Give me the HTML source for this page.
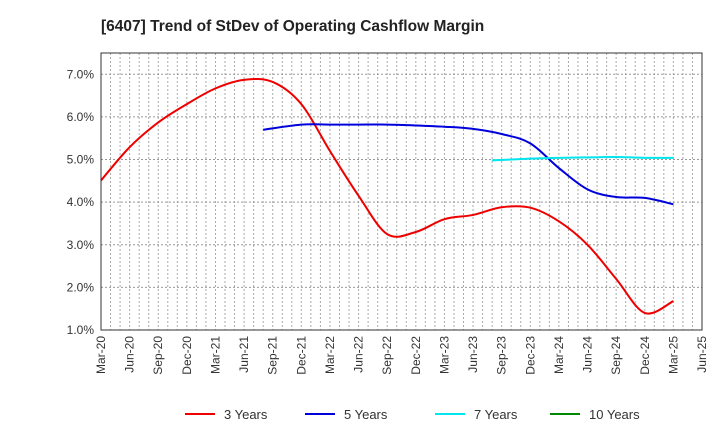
<!DOCTYPE html>
<html><head><meta charset="utf-8"><style>
body{margin:0;background:#fff;font-family:"Liberation Sans",Arial,sans-serif}
</style></head><body>
<svg width="720" height="440" id="c" xmlns="http://www.w3.org/2000/svg">
<text x="101" y="31" font-size="15.5" font-weight="bold" fill="#222">[6407]  Trend of StDev of Operating Cashflow Margin</text>
<g id="grid"></g><g id="series"></g><g id="axes"></g><g id="legend"></g>
</svg>
<script>
const xLabels=["Mar-20","Jun-20","Sep-20","Dec-20","Mar-21","Jun-21","Sep-21","Dec-21","Mar-22","Jun-22","Sep-22","Dec-22","Mar-23","Jun-23","Sep-23","Dec-23","Mar-24","Jun-24","Sep-24","Dec-24","Mar-25","Jun-25"];
const yTicks=[1,2,3,4,5,6,7];
// months since Mar-20
const m3=[0,3,6,9,12,15,18,21,24,27,30,33,36,39,42,45,48,51,54,57,60];
const v3=[4.51,5.29,5.87,6.3,6.67,6.87,6.82,6.3,5.2,4.15,3.25,3.3,3.6,3.7,3.88,3.87,3.55,3.0,2.2,1.4,1.68];
const m5=[17,21,24,27,30,33,36,39,42,45,48,51,54,57,60];
const v5=[5.7,5.82,5.82,5.82,5.82,5.8,5.77,5.72,5.6,5.38,4.8,4.3,4.12,4.1,3.95];
const m7=[41,45,48,51,54,57,60];
const v7=[4.98,5.02,5.04,5.05,5.06,5.04,5.04];
const L=101,R=702,T=53,B=330,ymin=1,ymax=7.5;
const X=m=>L+(R-L)*m/63, Y=v=>B-(B-T)*(v-ymin)/(ymax-ymin);
const NS="http://www.w3.org/2000/svg";
function mk(t,a,p){const e=document.createElementNS(NS,t);for(const k in a)e.setAttribute(k,a[k]);p.appendChild(e);return e;}
const g=document.getElementById('grid'),ax=document.getElementById('axes'),sg=document.getElementById('series'),lg=document.getElementById('legend');
for(let m=1;m<63;m++){const l=mk('line',{x1:X(m),x2:X(m),y1:T,y2:B,stroke:'#aaa','stroke-dasharray':'2,2','stroke-width':1},g);

}
yTicks.forEach(v=>{const l=mk('line',{x1:L,x2:R,y1:Y(v),y2:Y(v),stroke:'#999','stroke-dasharray':'2,2'},g);


const t=mk('text',{x:L-7,y:Y(v)+4,'text-anchor':'end','font-size':12,fill:'#333'},ax);t.textContent=v.toFixed(1)+'%';

});
const fr=mk('rect',{x:L,y:T,width:R-L,height:B-T,fill:'none',stroke:'#333'},ax);


xLabels.forEach((s,i)=>{const x=X(i*3);const t=mk('text',{x:x+4,y:B+6,'text-anchor':'end','font-size':12,fill:'#333',transform:`rotate(-90 ${x+4} ${B+6})`},ax);t.textContent=s;

});
function path(ms,vs){const p=ms.map((m,i)=>[X(m),Y(vs[i])]);let d=`M${p[0][0]},${p[0][1]}`;
for(let i=0;i<p.length-1;i++){const p0=p[i-1]||p[i],p1=p[i],p2=p[i+1],p3=p[i+2]||p2;
d+=` C${p1[0]+(p2[0]-p0[0])/6},${p1[1]+(p2[1]-p0[1])/6} ${p2[0]-(p3[0]-p1[0])/6},${p2[1]-(p3[1]-p1[1])/6} ${p2[0]},${p2[1]}`;}return d;}
[[m3,v3,'#ee0000','series-3-years'],[m5,v5,'#0000dd','series-5-years'],[m7,v7,'#00e5ee','series-7-years']].forEach(s=>{
const e=mk('path',{d:path(s[0],s[1]),fill:'none',stroke:s[2],'stroke-width':2},sg);

});
[['3 Years','#ee0000',185],['5 Years','#0000dd',305],['7 Years','#00e5ee',435],['10 Years','#008800',550]].forEach(s=>{
const l=mk('line',{x1:s[2],x2:s[2]+30,y1:414,y2:414,stroke:s[1],'stroke-width':2},lg);


const t=mk('text',{x:s[2]+39,y:419,'font-size':13,fill:'#333'},lg);t.textContent=s[0];

});
</script>
</body></html>
